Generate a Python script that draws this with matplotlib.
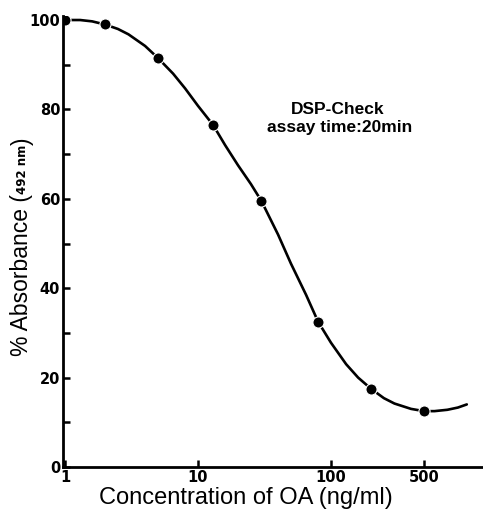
import numpy as np
import matplotlib
matplotlib.use("Agg")
import matplotlib.pyplot as plt

# Measured points (concentration of OA in ng/ml, % absorbance)
conc = [1, 2, 5, 13, 30, 80, 200, 500]
absorb = [100, 99, 91.5, 76.5, 59.5, 32.5, 17.5, 12.5]

# Hand-drawn curve through the points
curve_x = [1, 1.3, 1.6, 2, 2.5, 3, 4, 5, 6.5, 8, 10, 13, 16, 20, 25, 30, 40, 50, 65,
           80, 100, 130, 160, 200, 250, 300, 400, 500, 600, 750, 900, 1050]
curve_y = [100, 100, 99.7, 99, 98, 96.8, 94.2, 91.5, 88, 84.7, 80.8, 76.5, 72, 67.5, 63.3,
           59.5, 52, 45.5, 38.5, 32.5, 27.8, 23, 20, 17.5, 15.4, 14.2, 13, 12.5, 12.5,
           12.8, 13.3, 14]

x_ticks = [1, 10, 100, 500]
x_tick_labels = ["1", "10", "100", "500"]
y_ticks = [0, 20, 40, 60, 80, 100]
y_minor = [10, 30, 50, 70, 90]

W, H = 483, 511
fig = plt.figure(figsize=(W / 100, H / 100), dpi=100)
ax = fig.add_axes([63 / W, 44 / H, (W - 63) / W, (511 - 44 - 16) / H])

ax.plot(curve_x, curve_y, color="black", linewidth=1.9, solid_capstyle="round")
ax.plot(conc, absorb, "o", color="black", markersize=8,
        markeredgecolor="white", markeredgewidth=0.8)

ax.set_xscale("log")
ax.set_xlim(0.966, 1390)
ax.set_ylim(0, 100.9)

for s in ["top", "right"]:
    ax.spines[s].set_visible(False)
for s in ["left", "bottom"]:
    ax.spines[s].set_linewidth(2)

tick_font = dict(family=["Liberation Sans Narrow", "DejaVu Sans"], weight="bold", size=10.5)

ax.set_xticks(x_ticks)
ax.set_xticklabels(x_tick_labels, fontdict=tick_font)
ax.xaxis.set_minor_locator(matplotlib.ticker.NullLocator())
ax.set_yticks(y_ticks)
ax.set_yticklabels([str(v) for v in y_ticks], fontdict=tick_font)
ax.set_yticks(y_minor, minor=True)
ax.tick_params(axis="both", which="both", direction="in", length=5, width=1.8, pad=2)

ax.set_xlabel("Concentration of OA (ng/ml)", fontsize=17,
              family=["Liberation Sans", "DejaVu Sans"])
ax.xaxis.set_label_coords(0.435, -0.068)
ax.xaxis.label.set_va("center")

# y label in pieces: big text with the small bold wavelength inside the brackets
fig.canvas.draw()
renderer = fig.canvas.get_renderer()
x0 = 22 / W
t1 = fig.text(x0, 1 - 356 / H, "% Absorbance (", rotation=90, fontsize=16.5,
              ha="center", va="bottom", family=["Liberation Sans", "DejaVu Sans"])
bb = t1.get_window_extent(renderer).transformed(fig.transFigure.inverted())
t2 = fig.text(x0 + 1 / W, bb.y1, "492 nm", rotation=90, fontsize=8.5, weight="bold",
              ha="center", va="bottom", family=["Liberation Sans Narrow", "DejaVu Sans"])
bb2 = t2.get_window_extent(renderer).transformed(fig.transFigure.inverted())
fig.text(x0, bb2.y1, ")", rotation=90, fontsize=16.5,
         ha="center", va="bottom", family=["Liberation Sans", "DejaVu Sans"])

ax.text(338 / W, 1 - 109 / H, "DSP-Check", transform=fig.transFigure,
        ha="center", va="center", fontsize=12.5, weight="bold",
        family=["Liberation Sans", "DejaVu Sans"])
ax.text(340 / W, 1 - 127 / H, "assay time:20min", transform=fig.transFigure,
        ha="center", va="center", fontsize=12.5, weight="bold",
        family=["Liberation Sans", "DejaVu Sans"])

fig.savefig("out.png", dpi=100)
